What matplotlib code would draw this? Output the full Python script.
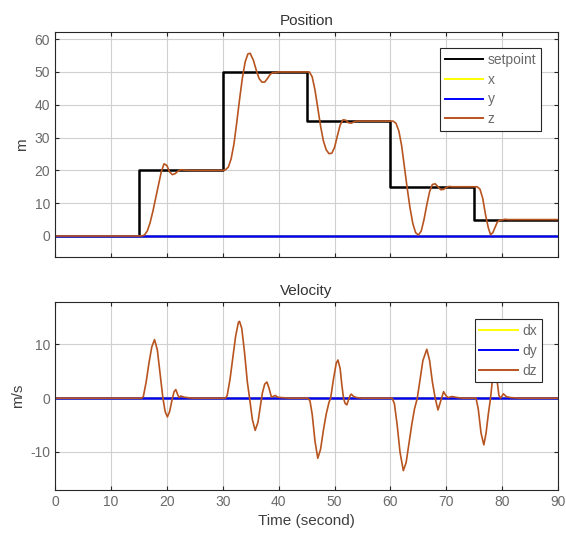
import numpy as np
from matplotlib import pyplot as plt

# setpoint (stufer)
t_sp = [0, 15, 30, 45, 60, 75, 90]
sp = [0, 20, 50, 35, 15, 5, 5]

# x og y er null hele tiden
t_xy = [0, 90]
x = [0, 0]
y = [0, 0]

# z-posisjon
t_z = [0, 15, 15.5, 16, 16.5, 17, 17.5, 18, 18.5, 19, 19.5, 20, 20.5, 21, 21.5, 22, 22.5, 23, 24,
       30, 30.5, 31, 31.5, 32, 32.5, 33, 33.5, 34, 34.5, 34.9, 35.5, 36, 36.5, 37, 37.5, 38, 38.5, 39, 39.5, 40,
       45, 45.5, 46, 46.5, 47, 47.5, 48, 48.5, 49, 49.5, 50, 50.5, 51, 51.5, 52, 52.5, 53, 53.5, 54,
       60, 60.5, 61, 61.5, 62, 62.5, 63, 63.5, 64, 64.5, 65, 65.5, 66, 66.5, 67, 67.5, 68, 68.5, 69, 69.5, 70, 70.5, 71,
       75, 75.5, 76, 76.5, 77, 77.5, 77.9, 78.3, 78.7, 79.1, 79.5, 80, 80.5, 81, 90]
z = [0, 0, 0, 0.3, 1.5, 4, 7.5, 11.5, 15.5, 19.5, 22, 21.5, 19.5, 18.7, 19, 19.8, 20.2, 20.1, 20,
     20, 20.2, 21, 23.5, 28, 34.5, 41.5, 48, 53, 55.5, 55.7, 53.5, 50.5, 48, 46.9, 46.9, 48, 49.3, 49.8, 49.8, 50,
     50, 50, 48.5, 44.5, 39, 33.5, 29, 26.3, 25.1, 25.2, 27, 30.5, 33.8, 35.4, 35.3, 34.5, 34.4, 34.8, 35,
     35, 35, 34.3, 32, 27.5, 21, 14.5, 8.5, 3.8, 1.0, 0.3, 1.5, 5, 9.5, 13.5, 15.7, 15.9, 15.0, 14.1, 14.2, 14.8, 15.1, 15,
     15, 15, 14.3, 11.5, 6.5, 2.5, 0.4, 1.0, 2.6, 4.2, 4.8, 4.9, 5.1, 5.0, 5]

# z-hastighet
t_dz = [0, 15.5, 15.8, 16.3, 16.8, 17.3, 17.8, 18.3, 18.8, 19.3, 19.7, 20.1, 20.5, 21.0, 21.3, 21.6, 22.0, 22.2, 22.5, 23, 24, 25,
        30.5, 30.8, 31.3, 31.8, 32.3, 32.8, 33.0, 33.4, 33.9, 34.4, 34.8, 35.3, 35.8, 36.3, 36.8, 37.1, 37.5, 37.9, 38.3, 38.7, 39.0, 39.4, 39.8, 40.5, 42,
        45.2, 45.6, 46.0, 46.5, 47.0, 47.5, 48.0, 48.5, 49.0, 49.3, 49.8, 50.3, 50.6, 51.0, 51.3, 51.6, 51.9, 52.2, 52.5, 52.8, 53.0, 53.4, 54, 55,
        60.3, 60.7, 61.2, 61.7, 62.3, 62.8, 63.3, 63.8, 64.3, 64.8, 65.3, 65.8, 66.5, 67.0, 67.5, 68.0, 68.5, 69.0, 69.5, 69.9, 70.3, 71, 72, 73,
        75.3, 75.7, 76.2, 76.7, 77.1, 77.5, 77.9, 78.3, 78.7, 79.1, 79.4, 79.7, 80.2, 80.7, 81.5, 83, 90]
dz = [0, 0, 0.3, 3, 6.5, 9.5, 10.9, 9, 4.5, 0, -2.5, -3.5, -2.5, 0, 1.2, 1.6, 0.5, 0.1, 0.4, 0.2, 0.05, 0,
      0, 0.5, 3.5, 7.5, 11.5, 14.1, 14.3, 13, 8.5, 3, 0, -4, -6, -4.5, -1, 1, 2.6, 3.0, 1.8, 0.2, 0.3, 0.5, 0.2, 0.1, 0,
      0, -0.5, -3, -8, -11.2, -9.5, -6, -3, -0.8, 0, 3.5, 6.5, 7.1, 5.5, 2.5, 0, -1, -1.25, -0.3, 0.5, 0.75, 0.3, 0.1, 0,
      0, -1, -5, -10, -13.5, -12, -8.5, -5, -2, 0, 3.5, 7, 9.1, 7, 3, 0, -2.2, -0.5, 1.2, 0.5, 0.1, 0.3, 0.1, 0,
      0, -2, -6.5, -8.7, -6.5, -3, 0, 4, 6, 3, 0.5, 0, 0.8, 0.3, 0.1, 0, 0]
dx = [0, 0]
dy = [0, 0]

plt.rcParams['font.family'] = ['Liberation Sans', 'DejaVu Sans']
plt.rcParams['axes.unicode_minus'] = False
plt.rcParams['text.color'] = '#333333'
plt.rcParams['axes.labelcolor'] = '#404040'

zcol = '#B8541F'
gray = '#6a6a6a'

fig = plt.figure(figsize=(5.66, 5.41), dpi=100)
ax1 = fig.add_axes([0.0972, 0.525, 0.889, 0.416])
ax2 = fig.add_axes([0.0972, 0.0943, 0.889, 0.3475])

ax1.plot(t_sp, sp, color='black', lw=1.8, drawstyle='steps-post', label='setpoint')
ax1.plot(t_xy, x, color='yellow', lw=1.8, label='x')
ax1.plot(t_xy, y, color='blue', lw=1.8, label='y')
ax1.plot(t_z, z, color=zcol, lw=1.2, label='z')
ax1.set_xlim(0, 90)
ax1.set_ylim(-6.4, 62.2)
ax1.set_yticks([0, 10, 20, 30, 40, 50, 60])
ax1.set_xticks(np.arange(0, 91, 10))
ax1.set_xticklabels([])
ax1.set_ylabel('m', fontsize=11)
ax1.set_title('Position', fontsize=11, pad=5)
leg1 = ax1.legend(loc='upper right', bbox_to_anchor=(0.966, 0.929), fontsize=10, handlelength=2.8,
                  fancybox=False, framealpha=1, edgecolor='#262626', borderpad=0.35, labelspacing=0.42,
                  handletextpad=0.3, borderaxespad=0)

ax2.plot(t_xy, dx, color='yellow', lw=1.8, label='dx')
ax2.plot(t_xy, dy, color='blue', lw=1.8, label='dy')
ax2.plot(t_dz, dz, color=zcol, lw=1.2, label='dz')
ax2.set_xlim(0, 90)
ax2.set_ylim(-17.1, 17.9)
ax2.set_yticks([-10, 0, 10])
ax2.set_xticks(np.arange(0, 91, 10))
ax2.set_xlabel('Time (second)', fontsize=11)
ax2.set_ylabel('m/s', fontsize=11)
ax2.set_title('Velocity', fontsize=11, pad=5)
leg2 = ax2.legend(loc='upper right', bbox_to_anchor=(0.968, 0.909), fontsize=10, handlelength=2.8,
                  fancybox=False, framealpha=1, edgecolor='#262626', borderpad=0.35, labelspacing=0.42,
                  handletextpad=0.3, borderaxespad=0)

for ax, leg in [(ax1, leg1), (ax2, leg2)]:
    ax.grid(True, color='#d0d0d0', lw=0.8)
    ax.set_axisbelow(True)
    ax.tick_params(direction='in', top=True, right=True, labelsize=10, colors='#262626', labelcolor=gray, length=3)
    for s in ax.spines.values():
        s.set_color('#262626')
        s.set_linewidth(0.8)
    leg.get_frame().set_linewidth(0.8)
    for line in leg.get_lines():
        line.set_linewidth(1.4)
    for txt in leg.get_texts():
        txt.set_color(gray)

plt.savefig('out.png', dpi=100)
